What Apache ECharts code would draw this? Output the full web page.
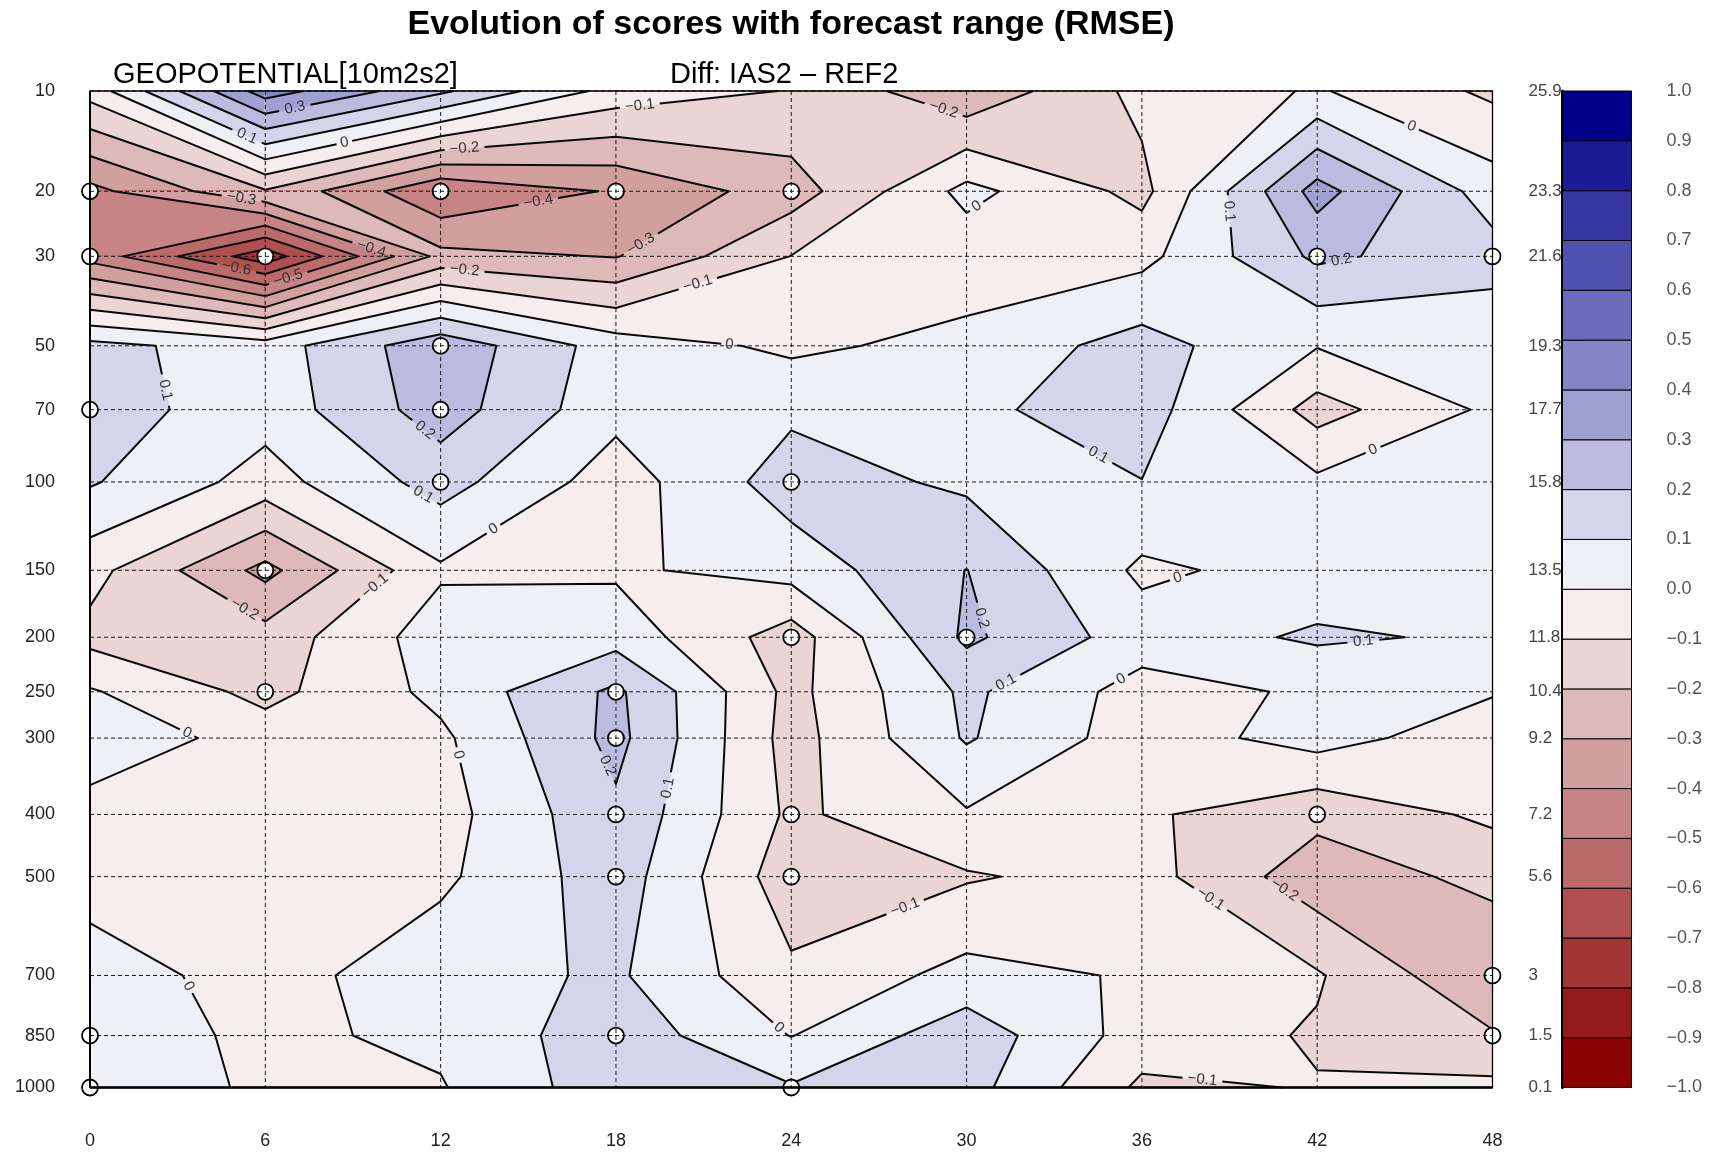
<!DOCTYPE html>
<html>
<head>
<meta charset="utf-8">
<script src="https://cdn.jsdelivr.net/npm/echarts@6.0.0/dist/echarts.min.js"></script>
<style>
  html, body { margin: 0; padding: 0; background: #ffffff; }
  #chart { width: 1717px; height: 1152px; }
</style>
</head>
<body>
<div id="chart"></div>
<script>
// Forecast ranges (hours) and pressure levels (hPa)
const hours = [0, 6, 12, 18, 24, 30, 36, 42, 48];
const levels = [10, 20, 30, 50, 70, 100, 150, 200, 250, 300, 400, 500, 700, 850, 1000];

// RMSE of the reference experiment at each level (right-hand labels)
const rmseRef = ['25.9', '23.3', '21.6', '19.3', '17.7', '15.8', '13.5', '11.8', '10.4', '9.2', '7.2', '5.6', '3', '1.5', '0.1'];

// RMSE difference IAS2 - REF2, one array per level, one value per forecast range
const diff10   = [-0.06,  0.45,  0.22,  -0.04, -0.105, -0.28,  -0.07,  0.01,  -0.12];
const diff20   = [-0.43, -0.21, -0.49,  -0.39, -0.25,   0.03,  -0.13,  0.34,   0.05];
const diff30   = [-0.44, -0.76, -0.27,  -0.305, -0.098, -0.06, -0.03,  0.22,   0.14];
const diff50   = [ 0.13,  0.05,  0.27,   0.05, -0.02,   0.03,   0.14,  0.005,  0.03];
const diff70   = [ 0.15,  0.04,  0.25,   0.03,  0.08,   0.08,   0.15, -0.14,   0.02];
const diff100  = [ 0.11, -0.04,  0.14,  -0.05,  0.15,   0.08,   0.098, 0.02,   0.04];
const diff150  = [-0.065, -0.33, -0.015, -0.015, 0.04,  0.202, -0.02,  0.04,   0.03];
const diff200  = [-0.13, -0.16,  0.053,  0.06, -0.15,   0.22,   0.05,  0.115,  0.085];
const diff250  = [ 0.01, -0.13,  0.027,  0.22, -0.13,   0.12,  -0.04,  0.015,  0.008];
const diff300  = [ 0.08, -0.05, -0.02,   0.23, -0.14,   0.11,  -0.05,  0.04,  -0.06];
const diff400  = [-0.05, -0.05, -0.04,   0.18, -0.12,  -0.01,  -0.085, -0.17, -0.08];
const diff500  = [-0.04, -0.05, -0.02,   0.154, -0.16, -0.11,  -0.06, -0.26,  -0.17];
const diff700  = [ 0.045, -0.04, 0.06,   0.115, -0.08,  0.032, -0.01, -0.09,  -0.29];
const diff850  = [ 0.05, -0.02,  0.02,   0.16, -0.003,  0.16,  -0.045, -0.11, -0.19];
const diff1000 = [ 0.04, -0.01, -0.007,  0.16,  0.108,  0.14,  -0.12, -0.095, -0.075];
const diffRows = [diff10, diff20, diff30, diff50, diff70, diff100, diff150, diff200,
                  diff250, diff300, diff400, diff500, diff700, diff850, diff1000];

// Contour levels / colour bar ticks
const cbarTicks = [-1.0, -0.9, -0.8, -0.7, -0.6, -0.5, -0.4, -0.3, -0.2, -0.1, 0.0,
                   0.1, 0.2, 0.3, 0.4, 0.5, 0.6, 0.7, 0.8, 0.9, 1.0];

// Points where the difference is flagged as significant: [hour, level]
const significant = [
  [0, 20], [0, 30], [0, 70], [0, 850], [0, 1000],
  [6, 30], [6, 150], [6, 250],
  [12, 20], [12, 50], [12, 70], [12, 100],
  [18, 20], [18, 250], [18, 300], [18, 400], [18, 500], [18, 850],
  [24, 20], [24, 100], [24, 200], [24, 400], [24, 500], [24, 1000],
  [30, 200],
  [42, 30], [42, 400],
  [48, 30], [48, 700], [48, 850]
];

// Palette: one colour per band between consecutive ticks (red = negative, blue = positive)
const bandColors = [
  '#8b0000', '#971a1a', '#a33535', '#af4f4f', '#bb6a6a', '#c68484', '#d29f9f', '#deb9b9', '#ead4d4', '#f6eeee',
  '#eff0f6', '#d4d5ea', '#babbde', '#9fa0d2', '#8585c6', '#6a6bbb', '#5050af', '#3535a3', '#1b1b97', '#00008b'
];

const FONT = '"Liberation Sans", Arial, Helvetica, sans-serif';

// Vertical coordinate: pressure raised to a small power (height-like axis)
const EXP = 0.19;
const tp = p => Math.pow(p, EXP);
const tLevels = levels.map(tp);

function levelIndex(t) {
  return tLevels.findIndex(v => Math.abs(v - t) < 1e-6);
}
function levelText(L) {
  if (Math.abs(L) < 1e-9) return '0';
  return (L < 0 ? '\u2212' : '') + Math.abs(L).toFixed(1);
}
function bandIndex(v) {
  let k = 0;
  for (let i = 1; i < cbarTicks.length - 1; i++) if (v >= cbarTicks[i] - 1e-12) k = i;
  return k;
}

// ---- marching squares on the (hour, level) grid, in data space ----
// corner order: top-left, top-right, bottom-right, bottom-left
// saddle cells always join the top-left / bottom-right diagonal
function cellCorners(j, i) {
  return [
    { x: hours[i],     t: tLevels[j],     v: diffRows[j][i] },
    { x: hours[i + 1], t: tLevels[j],     v: diffRows[j][i + 1] },
    { x: hours[i + 1], t: tLevels[j + 1], v: diffRows[j + 1][i + 1] },
    { x: hours[i],     t: tLevels[j + 1], v: diffRows[j + 1][i] }
  ];
}
function edgeKeys(j, i) {
  return ['h' + j + '_' + i, 'v' + j + '_' + (i + 1), 'h' + (j + 1) + '_' + i, 'v' + j + '_' + i];
}
function crossAt(p, q, L) {
  const s = (L - p.v) / (q.v - p.v);
  return [p.x + s * (q.x - p.x), p.t + s * (q.t - p.t)];
}
// region where value >= L inside one cell, as a list of polygons
function superLevel(c, L) {
  const ab = c.map(d => d.v >= L);
  let nCross = 0;
  for (let e = 0; e < 4; e++) if (ab[e] !== ab[(e + 1) % 4]) nCross++;
  if (nCross === 4 && !ab[0]) {
    // high corners on the other diagonal stay separate
    return [1, 3].map(e => [[c[e].x, c[e].t], crossAt(c[e], c[(e + 1) % 4], L), crossAt(c[(e + 3) % 4], c[e], L)]);
  }
  const pts = [];
  for (let e = 0; e < 4; e++) {
    const p = c[e], q = c[(e + 1) % 4];
    if (ab[e]) pts.push([p.x, p.t]);
    if (ab[e] !== ab[(e + 1) % 4]) pts.push(crossAt(p, q, L));
  }
  return pts.length >= 3 ? [pts] : [];
}

// filled bands: per cell, base colour then successive super-level regions
const fillPieces = [];
for (let j = 0; j < levels.length - 1; j++) {
  for (let i = 0; i < hours.length - 1; i++) {
    const c = cellCorners(j, i);
    const vs = c.map(d => d.v);
    const kLo = bandIndex(Math.min(...vs));
    const kHi = bandIndex(Math.max(...vs));
    fillPieces.push({ k: kLo, pts: c.map(d => [d.x, d.t]) });
    for (let k = kLo + 1; k <= kHi; k++) {
      superLevel(c, cbarTicks[k]).forEach(pts => fillPieces.push({ k, pts }));
    }
  }
}

// contour lines, joined into polylines
const contourPaths = [];
for (let k = 1; k < cbarTicks.length - 1; k++) {
  const L = cbarTicks[k];
  const segs = [], ptOf = {}, adj = {};
  for (let j = 0; j < levels.length - 1; j++) {
    for (let i = 0; i < hours.length - 1; i++) {
      const c = cellCorners(j, i), keys = edgeKeys(j, i);
      const hits = [];
      for (let e = 0; e < 4; e++) {
        const p = c[e], q = c[(e + 1) % 4];
        if ((p.v >= L) !== (q.v >= L)) { hits.push(e); ptOf[keys[e]] = crossAt(p, q, L); }
      }
      let pairs = [];
      if (hits.length === 2) pairs = [[hits[0], hits[1]]];
      else if (hits.length === 4) pairs = [[0, 1], [2, 3]];
      pairs.forEach(([a, b]) => {
        const id = segs.length;
        segs.push({ a: keys[a], b: keys[b] });
        (adj[keys[a]] = adj[keys[a]] || []).push(id);
        (adj[keys[b]] = adj[keys[b]] || []).push(id);
      });
    }
  }
  const used = new Array(segs.length).fill(false);
  const grow = (chain, atEnd) => {
    for (;;) {
      const key = atEnd ? chain[chain.length - 1] : chain[0];
      const next = (adj[key] || []).find(id => !used[id]);
      if (next === undefined) return;
      used[next] = true;
      const s = segs[next];
      const other = s.a === key ? s.b : s.a;
      if (atEnd) chain.push(other); else chain.unshift(other);
    }
  };
  for (let s0 = 0; s0 < segs.length; s0++) {
    if (used[s0]) continue;
    used[s0] = true;
    const chain = [segs[s0].a, segs[s0].b];
    grow(chain, true);
    grow(chain, false);
    contourPaths.push({ level: L, pts: chain.map(key => ptOf[key]) });
  }
}

// pixel layout of contour lines with gaps for inline labels
function layoutContours(api) {
  const lines = [], labels = [], placed = [];
  for (const path of contourPaths) {
    const P = path.pts.map(p => api.coord(p));
    const n = P.length;
    if (n < 2) continue;
    const cum = [0];
    for (let i = 1; i < n; i++) cum.push(cum[i - 1] + Math.hypot(P[i][0] - P[i - 1][0], P[i][1] - P[i - 1][1]));
    const total = cum[n - 1];
    const text = levelText(path.level);
    const gap = text.length * 8 + 8;
    const at = s => {
      let i = 1;
      while (i < n - 1 && cum[i] < s) i++;
      const seg = (cum[i] - cum[i - 1]) || 1;
      const f = Math.max(0, Math.min(1, (s - cum[i - 1]) / seg));
      return [P[i - 1][0] + f * (P[i][0] - P[i - 1][0]), P[i - 1][1] + f * (P[i][1] - P[i - 1][1])];
    };
    const gaps = [];
    if (total > gap * 2) {
      const count = total > 1400 ? 2 : 1;
      for (let c = 0; c < count; c++) {
        const target = total * (c + 0.5) / count;
        let best = null;
        for (let i = 1; i < n; i++) {
          const a = cum[i - 1] + gap / 2 + 4, b = cum[i] - gap / 2 - 4;
          if (b < a) continue;
          const m = Math.min(b, Math.max(a, target));
          const pt = at(m);
          if (placed.some(q => Math.hypot(q[0] - pt[0], q[1] - pt[1]) < 50)) continue;
          const d = Math.abs(m - target);
          if (!best || d < best.d) best = { d, m, i, pt };
        }
        if (!best) continue;
        const A = P[best.i - 1], B = P[best.i];
        let ang = Math.atan2(B[1] - A[1], B[0] - A[0]);
        if (ang > Math.PI / 2) ang -= Math.PI;
        else if (ang < -Math.PI / 2) ang += Math.PI;
        placed.push(best.pt);
        labels.push({ x: best.pt[0], y: best.pt[1], rotation: -ang, text });
        gaps.push([best.m - gap / 2, best.m + gap / 2]);
      }
    }
    gaps.sort((u, v) => u[0] - v[0]);
    const slice = (s0, s1) => {
      const pts = [at(s0)];
      for (let i = 0; i < n; i++) if (cum[i] > s0 && cum[i] < s1) pts.push(P[i]);
      pts.push(at(s1));
      return pts;
    };
    let s = 0;
    for (const g of gaps) { if (g[0] > s) lines.push(slice(s, g[0])); s = g[1]; }
    if (total > s) lines.push(slice(s, total));
  }
  return { lines, labels };
}

const chart = echarts.init(document.getElementById('chart'), null, { renderer: 'canvas', width: 1717, height: 1152 });

const option = {
  animation: false,
  backgroundColor: '#ffffff',
  graphic: [
    { type: 'text', x: 791, y: 25, silent: true,
      style: { text: 'Evolution of scores with forecast range (RMSE)', fontSize: 34, fontWeight: 'bold',
               fontFamily: FONT, fill: '#000', align: 'center', verticalAlign: 'middle' } },
    { type: 'text', x: 113, y: 75, silent: true,
      style: { text: 'GEOPOTENTIAL[10m2s2]', fontSize: 29, fontFamily: FONT, fill: '#000',
               align: 'left', verticalAlign: 'middle' } },
    { type: 'text', x: 670, y: 75, silent: true,
      style: { text: 'Diff: IAS2 \u2013 REF2', fontSize: 29, fontFamily: FONT, fill: '#000',
               align: 'left', verticalAlign: 'middle' } }
  ],
  grid: [
    { left: 90, top: 91, width: 1402.5, height: 996.5 },
    { left: 1562.5, top: 91, width: 69, height: 996.5 }
  ],
  xAxis: [
    { gridIndex: 0, type: 'value', min: 0, max: 48, interval: 6,
      axisLine: { show: false }, axisTick: { show: false }, splitLine: { show: false },
      axisLabel: { margin: 45, fontSize: 18, color: '#222', fontFamily: FONT, showMinLabel: true, showMaxLabel: true } },
    { gridIndex: 1, type: 'value', min: 0, max: 1, show: false }
  ],
  yAxis: [
    { gridIndex: 0, type: 'value', inverse: true, min: tLevels[0], max: tLevels[tLevels.length - 1],
      axisLine: { show: false }, axisTick: { show: false }, splitLine: { show: false },
      axisLabel: { customValues: tLevels, margin: 35, fontSize: 18, color: '#222', fontFamily: FONT,
                   showMinLabel: true, showMaxLabel: true,
                   formatter: v => { const i = levelIndex(v); return i >= 0 ? String(levels[i]) : ''; } } },
    { gridIndex: 0, type: 'value', position: 'right', inverse: true, min: tLevels[0], max: tLevels[tLevels.length - 1],
      axisLine: { show: false }, axisTick: { show: false }, splitLine: { show: false },
      axisLabel: { customValues: tLevels, margin: 36, fontSize: 17, color: '#444', fontFamily: FONT,
                   showMinLabel: true, showMaxLabel: true,
                   formatter: v => { const i = levelIndex(v); return i >= 0 ? rmseRef[i] : ''; } } },
    { gridIndex: 1, type: 'value', position: 'right', min: -1, max: 1, interval: 0.1,
      axisLine: { show: true, lineStyle: { color: '#000', width: 3 } },
      axisTick: { show: true, length: 21, lineStyle: { color: '#000', width: 1 } },
      splitLine: { show: false },
      axisLabel: { margin: 35, fontSize: 18, color: '#555', fontFamily: FONT, showMinLabel: true, showMaxLabel: true,
                   formatter: v => Math.abs(v) < 1e-9 ? '0.0' : (v < 0 ? '\u2212' : '') + Math.abs(v).toFixed(1) } }
  ],
  series: [
    { // filled contour bands
      type: 'custom', name: 'bands', xAxisIndex: 0, yAxisIndex: 0, z: 1, silent: true,
      data: [[0, tLevels[0]]],
      renderItem: (params, api) => ({
        type: 'group',
        children: fillPieces.map(pc => {
          const col = bandColors[pc.k];
          return { type: 'polygon', shape: { points: pc.pts.map(p => api.coord(p)) },
                   style: { fill: col, stroke: col, lineWidth: 1 } };
        })
      })
    },
    { // contour lines
      type: 'custom', name: 'contours', xAxisIndex: 0, yAxisIndex: 0, z: 2, silent: true,
      data: [[0, tLevels[0]]],
      renderItem: (params, api) => {
        const lay = layoutContours(api);
        return { type: 'group', children: lay.lines.map(pts => ({
          type: 'polyline', shape: { points: pts },
          style: { stroke: '#0a0a0a', lineWidth: 2, fill: 'none', lineJoin: 'round' } })) };
      }
    },
    { // significance markers
      type: 'scatter', name: 'significant', xAxisIndex: 0, yAxisIndex: 0, z: 3, silent: true, clip: false,
      data: significant.map(([h, p]) => [h, tp(p)]),
      symbol: 'circle', symbolSize: 16,
      itemStyle: { color: '#ffffff', borderColor: '#000', borderWidth: 1.8, opacity: 1 },
      emphasis: { disabled: true }
    },
    { // dashed grid, contour labels and frame
      type: 'custom', name: 'overlay', xAxisIndex: 0, yAxisIndex: 0, z: 4, silent: true,
      data: [[0, tLevels[0]]],
      renderItem: (params, api) => {
        const cs = params.coordSys;
        const children = [];
        hours.forEach(h => {
          const x = api.coord([h, tLevels[0]])[0];
          children.push({ type: 'line', shape: { x1: x, y1: cs.y, x2: x, y2: cs.y + cs.height },
                          style: { stroke: '#1a1a1a', lineWidth: 1, lineDash: [4, 3] } });
        });
        tLevels.forEach(t => {
          const y = api.coord([0, t])[1];
          children.push({ type: 'line', shape: { x1: cs.x, y1: y, x2: cs.x + cs.width, y2: y },
                          style: { stroke: '#1a1a1a', lineWidth: 1, lineDash: [4, 3] } });
        });
        const lay = layoutContours(api);
        lay.labels.forEach(lb => {
          children.push({ type: 'text', x: lb.x, y: lb.y, rotation: lb.rotation,
                          style: { text: lb.text, fontSize: 15, fontFamily: FONT, fill: '#333',
                                   align: 'center', verticalAlign: 'middle' } });
        });
        children.push({ type: 'rect', shape: { x: cs.x, y: cs.y, width: cs.width, height: cs.height },
                        style: { fill: 'none', stroke: '#000', lineWidth: 1.3 } });
        children.push({ type: 'line', shape: { x1: cs.x, y1: cs.y + cs.height, x2: cs.x + cs.width, y2: cs.y + cs.height },
                        style: { stroke: '#000', lineWidth: 2.6 } });
        children.push({ type: 'line', shape: { x1: cs.x, y1: cs.y, x2: cs.x, y2: cs.y + cs.height },
                        style: { stroke: '#000', lineWidth: 2 } });
        return { type: 'group', children };
      }
    },
    { // colour bar
      type: 'custom', name: 'colorbar', xAxisIndex: 1, yAxisIndex: 2, z: 2, silent: true,
      data: cbarTicks.slice(0, -1).map((lo, k) => [0.5, lo, cbarTicks[k + 1], k]),
      encode: { x: 0, y: [1, 2] },
      renderItem: (params, api) => {
        const k = api.value(3);
        const p0 = api.coord([0, api.value(1)]);
        const p1 = api.coord([1, api.value(2)]);
        return { type: 'rect',
                 shape: { x: p0[0], y: p1[1], width: p1[0] - p0[0], height: p0[1] - p1[1] },
                 style: { fill: bandColors[k], stroke: '#000', lineWidth: 1 } };
      }
    }
  ]
};
chart.setOption(option);
</script>
</body>
</html>
